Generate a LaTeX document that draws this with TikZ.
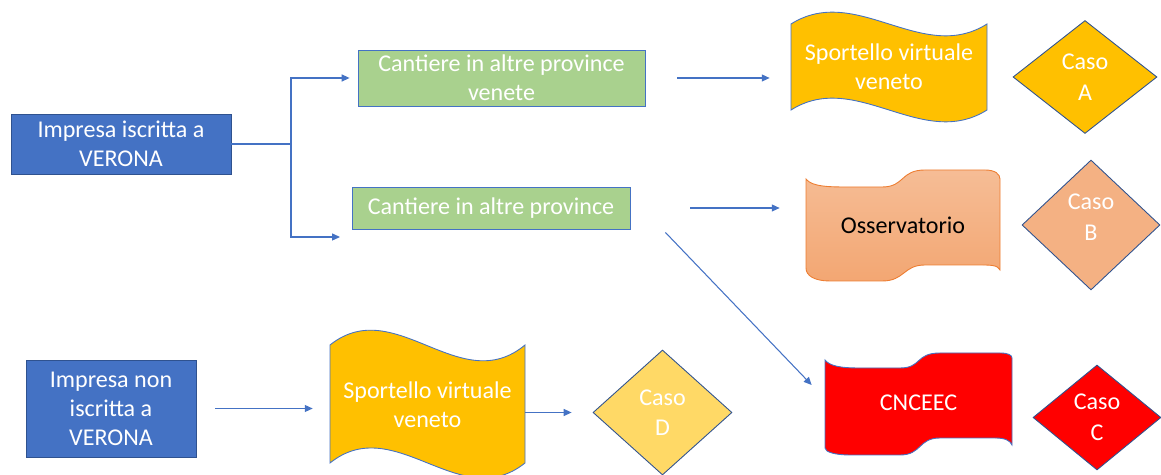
\documentclass[tikz,border=0pt]{standalone}
\usepackage{fontspec}
\setmainfont{Carlito}
\usepackage{tikz}
\usepackage{xcolor}
\usetikzlibrary{shapes.geometric, arrows.meta, positioning, calc}

\definecolor{pptblue}{HTML}{4472C4}
\definecolor{pptdark}{HTML}{2F528F}
\definecolor{pptgreen}{HTML}{A9D18E}
\definecolor{pptgold}{HTML}{FFC000}
\definecolor{pptlightgold}{HTML}{FFD966}
\definecolor{pptsalmon}{HTML}{F4B183}
\definecolor{pptorange}{HTML}{ED7D31}
\definecolor{pptred}{HTML}{FF0000}

\begin{document}
\begin{tikzpicture}[x=0.02cm, y=-0.02cm,
    txt/.style={font=\fontsize{13.7}{16.5}\selectfont, text=white, align=center, inner sep=0pt},
    box/.style={txt, rectangle, draw=pptdark, line width=0.5pt},
    caso/.style={txt, diamond, draw=pptdark, line width=0.5pt, font=\fontsize{13.7}{17.4}\selectfont},
    wave/.style={draw=pptblue, line width=0.5pt},
    conn/.style={draw=pptblue, line width=0.6pt, -{Triangle[length=4.5pt,width=4pt]}}]
    \useasboundingbox (0,0) rectangle (1161,475);

    % Wave outlines
    \filldraw[wave, fill=pptgold] (791,24) .. controls (856,-17) and (922,65) .. (987,24)
        -- (987,110) .. controls (922,151) and (856,69) .. (791,110) -- cycle;
    \filldraw[wave, fill=pptgold] (330,345) .. controls (395,293) and (460,399) .. (525,345)
        -- (525,463) .. controls (460,515) and (395,411) .. (330,463) -- cycle;
    \shade[top color=pptsalmon!85!white, bottom color=pptsalmon!80!pptorange]
        (806,179) .. controls (812,187) and (830,187) .. (850,187) -- (882,187)
        .. controls (905,187) and (900,170) .. (925,170) -- (985,170)
        .. controls (995,170) and (1000,174) .. (1000,179) -- (1000,270)
        .. controls (998,265) and (990,265) .. (980,265) -- (925,265)
        .. controls (903,265) and (905,281) .. (882,281) -- (830,281)
        .. controls (815,281) and (806,276) .. (806,268) -- cycle;
    \draw[pptorange, line width=0.5pt]
        (806,179) .. controls (812,187) and (830,187) .. (850,187) -- (882,187)
        .. controls (905,187) and (900,170) .. (925,170) -- (985,170)
        .. controls (995,170) and (1000,174) .. (1000,179) -- (1000,270)
        .. controls (998,265) and (990,265) .. (980,265) -- (925,265)
        .. controls (903,265) and (905,281) .. (882,281) -- (830,281)
        .. controls (815,281) and (806,276) .. (806,268) -- cycle;
    \filldraw[wave, fill=pptred]
        (825,360) .. controls (830,366) and (840,368) .. (860,368) -- (900,368)
        .. controls (922,368) and (915,353) .. (940,353) -- (1000,353)
        .. controls (1008,353) and (1012,355) .. (1012,358) -- (1012,445)
        .. controls (1010,440) and (1004,438) .. (995,438) -- (940,438)
        .. controls (918,438) and (922,455) .. (900,455) -- (850,455)
        .. controls (835,455) and (825,452) .. (825,448) -- cycle;

    % Boxes
    \node[box, fill=pptblue, minimum width=4.4cm, minimum height=1.2cm] (imp) at (121,144) {Impresa iscritta a\\VERONA};
    \node[box, fill=pptgreen, draw=pptblue, minimum width=5.74cm, minimum height=1.12cm] (cant1) at (501.5,78) {Cantiere in altre province\\venete};
    \node[box, fill=pptgreen, draw=pptblue, minimum width=5.56cm, minimum height=0.84cm] (cant2) at (491,208) {Cantiere in altre province};
    \node[box, fill=pptblue, minimum width=3.4cm, minimum height=1.94cm] (impn) at (111,408.5) {Impresa non\\iscritta a\\VERONA};

    % Text on the waves
    \node[txt, minimum width=3.92cm, minimum height=2.2cm] (sport1) at (889,67) {Sportello virtuale\\veneto};
    \node[txt, text=black, minimum width=3.88cm, minimum height=2.3cm] (oss) at (903,225) {Osservatorio};
    \node[txt, minimum width=3.74cm, minimum height=2.1cm] (cnc) at (918.5,403) {CNCEEC};
    \node[txt, minimum width=3.9cm, minimum height=2.6cm] (sport2) at (427.5,405) {Sportello virtuale\\veneto};

    % Cases
    \node[caso, fill=pptgold, minimum width=2.88cm, minimum height=2.26cm] (casoA) at (1085,77) {Caso\\A};
    \node[caso, fill=pptsalmon, text depth=9pt, minimum width=2.76cm, minimum height=2.6cm] (casoB) at (1091,225) {Caso\\B};
    \node[caso, fill=pptred, minimum width=2.56cm, minimum height=2.1cm] (casoC) at (1097,417.5) {Caso\\C};
    \node[caso, fill=pptlightgold, minimum width=2.78cm, minimum height=2.5cm] (casoD) at (662.5,412.5) {Caso\\D};

    % Connectors
    \coordinate (fork) at (291,144);
    \coordinate (tip) at (340,237);
    \draw[conn, shorten >=0.16cm] (imp.east) -- (fork) |- (cant1.west);
    \draw[conn] (fork) |- (tip);
    \draw[conn, shorten <=0.64cm, shorten >=0.42cm] (cant1.east) -- (cant1.east -| sport1.west);
    \draw[conn, shorten <=1.2cm, shorten >=0.52cm] (cant2.east) -- (cant2.east -| oss.west);
    \draw[conn] ([shift={(0.7cm,-0.06cm)}]cant2.south east) -- ([shift={(-0.26cm,0.36cm)}]cnc.west);
    \draw[conn, shorten <=0.38cm, shorten >=0.34cm] (impn.east) -- (impn.east -| sport2.west);
    \draw[conn, shorten >=0.42cm] (sport2.east |- casoD.west) -- (casoD.west);
\end{tikzpicture}
\end{document}
